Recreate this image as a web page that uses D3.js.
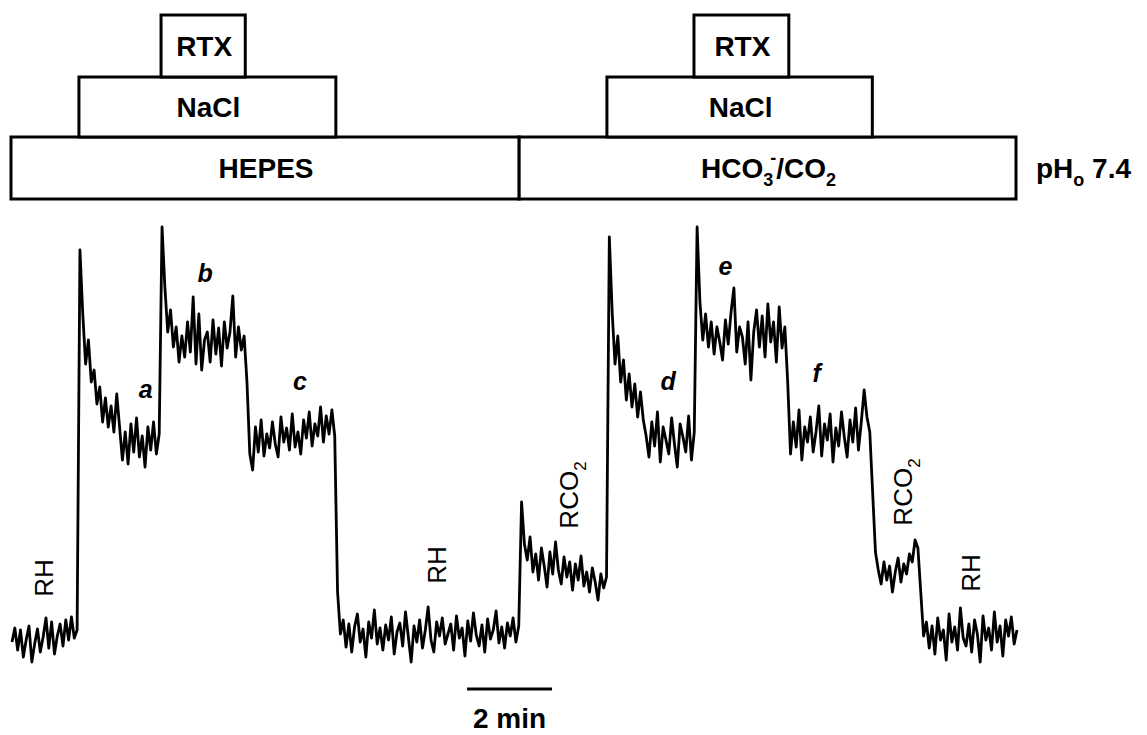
<!DOCTYPE html>
<html>
<head>
<meta charset="utf-8">
<script src="https://cdn.jsdelivr.net/npm/d3@7"></script>
<style>
body { margin: 0; background: #fff; }
text { font-family: Arial, "Liberation Sans", sans-serif; fill: #000; }
</style>
</head>
<body>
<svg class="chart"></svg>
<script>
// pHi trace, one sample every 4 s, arbitrary units (0 = RH baseline)
const sampleStep = 4;
const rh1 = [-10, 4, -18, 2, -25, -8, 6, -30, -12, 3, -20, -5, 14, -16, 10, -22, -4, 8, -14, 12, -8, 15, -6, 2];
const nacl1 = [382, 318, 268, 292, 250, 262, 228, 245, 210, 234, 205, 226, 200, 238, 205,
    172, 200, 168, 208, 180, 214, 175, 196, 165, 205, 182, 210, 178, 198];
const rtx1 = [405, 345, 300, 322, 285, 305, 270, 296, 275, 310, 280, 335, 268, 318, 262, 292,
    300, 270, 312, 278, 304, 266, 310, 284, 300, 336, 275, 305, 282, 296];
const nacl1b = [250, 178, 162, 205, 180, 212, 176, 198, 184, 210, 188, 175, 215, 190, 204, 182,
    218, 185, 200, 178, 212, 194, 220, 186, 208, 196, 225, 190, 216, 198, 222, 196];
const rh2 = [40, -2, 12, -15, 8, -20, 5, 18, -10, 3, -25, 10, -6, 22, -12, 4, -18, 7, -8, 15,
    -22, 0, 9, -14, 20, -5, -30, 6, -10, 12, -16, 2, 25, -8, -20, 10, -4, 14, -12, -2,
    8, -18, 16, -6, 4, -24, 11, -9, 19, -3, -14, 7, -20, 13, -7, 2, 21, -11, 5, -16, 9, -4, 14, -10, 6];
const rco2a = [130, 88, 72, 95, 60, 78, 52, 84, 66, 45, 80, 58, 90, 62, 48, 75, 55, 70, 42, 68,
    52, 76, 46, 60, 40, 64, 50, 32, 58, 44, 55];
const nacl2 = [395, 320, 268, 296, 250, 272, 232, 258, 225, 248, 215, 240, 212, 196,
    175, 210, 186, 220, 170, 205, 192, 178, 214, 188, 165, 208, 195, 180, 216, 172, 200];
const rtx2 = [405, 330, 292, 318, 285, 310, 278, 305, 290, 272, 312, 288, 320, 344, 280, 305,
    295, 268, 310, 252, 300, 322, 285, 316, 275, 328, 290, 310, 270, 325, 284, 305];
const nacl2b = [250, 178, 210, 185, 222, 172, 205, 190, 215, 180, 200, 226, 176, 208, 192,
    218, 170, 204, 186, 220, 195, 175, 212, 190, 224, 182, 210, 242, 215, 200];
const rco2b = [140, 80, 62, 48, 70, 52, 66, 40, 60, 74, 50, 68, 58, 78, 70, 92, 84, 40];
const rh3 = [-4, 10, -16, 6, -22, 14, -8, 2, -28, 18, -10, 5, -18, 24, -6, -14, 8, -20, 12, -2,
    -30, 16, -8, 4, -18, 20, -10, 6, -24, 12, -4, 15, -12, 2];

const segments = [rh1, nacl1, rtx1, nacl1b, rh2, rco2a, nacl2, rtx2, nacl2b, rco2b, rh3];
const segmentStarts = [0, 96, 212, 332, 460, 720, 844, 968, 1096, 1216, 1288];

// solution bars (seconds)
const boxNames = ["HEPES", "HCO3", "NaCl", "RTX", "NaCl", "RTX"];
const boxRows = [0, 0, 1, 2, 1, 2];
const boxStart = [0, 718, 96, 212, 842, 965];
const boxEnd = [718, 1420, 459, 331, 1217, 1099];

// trace annotations
const labelText = ["RH", "a", "b", "c", "RH", "RCO2", "d", "e", "f", "RCO2", "RH"];
const labelTime = [45, 189, 273, 407, 600, 786, 927, 1008, 1137, 1259, 1354];
const labelValue = [54, 234, 350, 242, 67, 137, 242, 357, 250, 140, 59];

const scaleBarMinutes = 2;
const scaleBarStart = 643;

const canvas = {width: 1147, height: 735};
const rowTop = [137, 77, 15];
const rowBottom = [199, 137, 77];

const x = d3.scaleLinear().domain([0, 1420]).range([12, 1017]);
const y = d3.scaleLinear().domain([0, 400]).range([632, 232]);

const svg = d3.select(".chart")
    .attr("width", canvas.width)
    .attr("height", canvas.height);

// boxes
const boxes = svg.append("g");
boxNames.forEach(function (name, i) {
    const r = boxRows[i];
    boxes.append("rect")
        .attr("x", x(boxStart[i]) - 1)
        .attr("y", rowTop[r])
        .attr("width", x(boxEnd[i]) - x(boxStart[i]))
        .attr("height", rowBottom[r] - rowTop[r])
        .attr("fill", "#fff")
        .attr("stroke", "#000")
        .attr("stroke-width", 3);

    const t = boxes.append("text")
        .attr("x", (x(boxStart[i]) + x(boxEnd[i])) / 2)
        .attr("y", (rowTop[r] + rowBottom[r]) / 2)
        .attr("dy", "0.36em")
        .attr("text-anchor", "middle")
        .attr("font-size", 28)
        .attr("font-weight", "bold");
    if (name === "HCO3") {
        t.append("tspan").text("HCO");
        t.append("tspan").attr("font-size", 18).attr("dy", 8).text("3");
        t.append("tspan").attr("font-size", 18).attr("dx", -3).attr("dy", -22).text("-");
        t.append("tspan").attr("dy", 14).text("/CO");
        t.append("tspan").attr("font-size", 18).attr("dy", 8).text("2");
    } else {
        t.text(name);
    }
});

const ph = svg.append("text")
    .attr("x", 1036)
    .attr("y", 178)
    .attr("font-size", 28)
    .attr("font-weight", "bold");
ph.append("tspan").text("pH");
ph.append("tspan").attr("font-size", 18).attr("dy", 8).text("o");
ph.append("tspan").attr("dy", -8).text(" 7.4");

// trace
const points = [];
segments.forEach(function (vals, k) {
    vals.forEach(function (v, j) {
        points.push({t: segmentStarts[k] + j * sampleStep, v: v});
    });
});

svg.append("path")
    .datum(points)
    .attr("fill", "none")
    .attr("stroke", "#000")
    .attr("stroke-width", 2.8)
    .attr("stroke-linejoin", "round")
    .attr("d", d3.line().x(d => x(d.t)).y(d => y(d.v)));

// labels
labelText.forEach(function (s, i) {
    const px = x(labelTime[i]);
    const py = y(labelValue[i]);
    if (s.length === 1) {
        svg.append("text")
            .attr("x", px).attr("y", py)
            .attr("text-anchor", "middle")
            .attr("font-size", 25)
            .attr("font-weight", "bold")
            .attr("font-style", "italic")
            .text(s);
    } else {
        const t = svg.append("text")
            .attr("transform", "translate(" + px + "," + py + ") rotate(-90)")
            .attr("text-anchor", "middle")
            .attr("dy", "0.36em")
            .attr("font-size", 26);
        if (s === "RCO2") {
            t.append("tspan").text("RCO");
            t.append("tspan").attr("font-size", 17).attr("dy", 8).text("2");
        } else {
            t.text(s);
        }
    }
});

// scale bar
const barEnd = scaleBarStart + scaleBarMinutes * 60;
svg.append("line")
    .attr("x1", x(scaleBarStart)).attr("x2", x(barEnd))
    .attr("y1", 689).attr("y2", 689)
    .attr("stroke", "#000")
    .attr("stroke-width", 3);
svg.append("text")
    .attr("x", (x(scaleBarStart) + x(barEnd)) / 2)
    .attr("y", 728)
    .attr("text-anchor", "middle")
    .attr("font-size", 28)
    .attr("font-weight", "bold")
    .text(scaleBarMinutes + " min");
</script>
</body>
</html>
